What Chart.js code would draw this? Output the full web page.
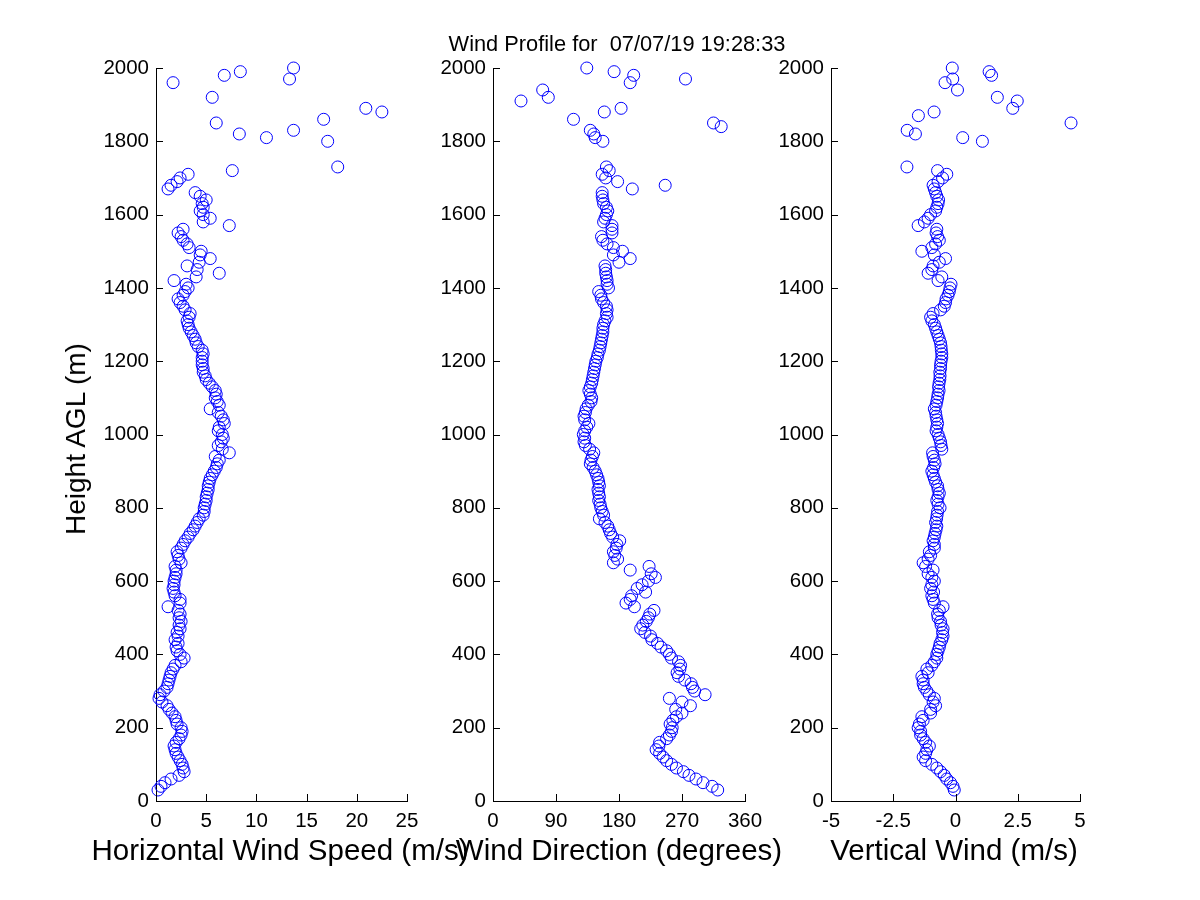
<!DOCTYPE html>
<html>
<head>
<meta charset="utf-8">
<title>Wind Profile</title>
<script src="https://cdn.jsdelivr.net/npm/chart.js@4.4.1/dist/chart.umd.min.js"></script>
<style>
    body { margin: 0; background: #fff; width: 1200px; height: 900px; position: relative; overflow: hidden;
           font-family: "Liberation Sans", Arial, sans-serif; }
    canvas { position: absolute; left: 0; top: 0; }
    .lbl { position: absolute; white-space: pre; color: #000; }
    #title { left: 617px; top: 33px; font-size: 21.8px; line-height: 22px; transform: translateX(-50%); }
    .xlbl { top: 835px; font-size: 29.5px; line-height: 30px; transform: translateX(-50%); }
    #ylbl { left: 76px; top: 439px; font-size: 28px; line-height: 28px; transform: translate(-50%, -50%) rotate(-90deg); }
</style>
</head>
<body>
<canvas id="speedChart" width="1200" height="900"></canvas>
<canvas id="dirChart" width="1200" height="900"></canvas>
<canvas id="vertChart" width="1200" height="900"></canvas>

<div class="lbl" id="title">Wind Profile for  07/07/19 19:28:33</div>
<div class="lbl" id="ylbl">Height AGL (m)</div>
<div class="lbl xlbl" style="left:280px">Horizontal Wind Speed (m/s)</div>
<div class="lbl xlbl" style="left:619px">Wind Direction (degrees)</div>
<div class="lbl xlbl" style="left:954px">Vertical Wind (m/s)</div>

<script>
// range gates (m AGL), dense part of the profile
const heights = [
    30, 40, 50, 60, 70, 80, 90, 100, 110, 120,
    130, 140, 150, 160, 170, 180, 190, 200, 210, 220,
    230, 240, 250, 260, 270, 280, 290, 300, 310, 320,
    330, 340, 350, 360, 370, 380, 390, 400, 410, 420,
    430, 440, 450, 460, 470, 480, 490, 500, 510, 520,
    530, 540, 550, 560, 570, 580, 590, 600, 610, 620,
    630, 640, 650, 660, 670, 680, 690, 700, 710, 720,
    730, 740, 750, 760, 770, 780, 790, 800, 810, 820,
    830, 840, 850, 860, 870, 880, 890, 900, 910, 920,
    930, 940, 950, 960, 970, 980, 990, 1000, 1010, 1020,
    1030, 1040, 1050, 1060, 1070, 1080, 1090, 1100, 1110, 1120,
    1130, 1140, 1150, 1160, 1170, 1180, 1190, 1200, 1210, 1220,
    1230, 1240, 1250, 1260, 1270, 1280, 1290, 1300, 1310, 1320,
    1330, 1340, 1350, 1360, 1370, 1380, 1390, 1400, 1410, 1420,
    1430, 1440, 1450, 1460, 1470, 1480, 1490, 1500, 1510, 1520,
    1530, 1540, 1550, 1560, 1570, 1580, 1590, 1600, 1610, 1620,
    1630, 1640, 1650, 1660, 1670, 1680, 1690, 1700, 1710, 1720,
    1730
];

const speed = [
    0.2, 0.5, 0.9, 1.5, 2.3, 2.8, 2.7, 2.6, 2.4, 2.2,
    2.0, 1.9, 1.8, 2.0, 2.3, 2.5, 2.6, 2.5, 2.1, 2.0,
    1.9, 1.6, 1.3, 1.1, 0.6, 0.3, 0.4, 0.8, 1.1, 1.2,
    1.3, 1.4, 1.5, 1.7, 1.9, 2.5, 2.8, 2.4, 2.1, 2.0,
    2.2, 1.9, 2.2, 2.1, 2.4, 2.3, 2.5, 2.3, 2.4, 2.2,
    1.2, 2.4, 2.4, 1.9, 1.8, 1.7, 1.8, 1.8, 1.9, 2.0,
    2.0, 1.9, 2.5, 2.3, 2.2, 2.1, 2.5, 2.7, 2.9, 3.2,
    3.4, 3.7, 3.9, 4.1, 4.3, 4.7, 4.8, 4.8, 4.9, 5.0,
    5.0, 5.1, 5.2, 5.2, 5.3, 5.4, 5.6, 5.8, 6.0, 6.1,
    6.3, 5.9, 7.3, 6.6, 6.2, 6.5, 6.7, 6.6, 6.2, 6.3,
    6.8, 6.7, 6.5, 6.2, 5.4, 6.3, 6.1, 5.9, 6.0, 5.9,
    5.6, 5.3, 5.0, 4.9, 4.7, 4.7, 4.6, 4.6, 4.6, 4.7,
    4.6, 4.2, 4.0, 3.9, 3.7, 3.5, 3.3, 3.2, 3.1, 3.3,
    3.4, 2.9, 2.7, 2.4, 2.2, 2.7, 2.9, 3.2, 3.0, 1.8,
    4.0, 6.3, 4.1, 3.1, 4.3, 5.4, 4.4, 4.5, 3.3, 3.1,
    2.7, 2.5, 2.2, 2.7, 7.3, 4.7, 5.4, 4.7, 4.4, 4.7,
    4.6, 5.0, 4.4, 3.9, 1.2, 1.5, 2.1, 2.4, 3.2, 7.6,
    18.1
];

const direction = [
    321, 313, 300, 290, 280, 272, 262, 255, 248, 243,
    238, 233, 237, 238, 248, 252, 255, 256, 253, 257,
    262, 270, 261, 282, 270, 252, 303, 288, 285, 283,
    274, 265, 263, 267, 268, 265, 255, 252, 248, 240,
    235, 227, 225, 217, 211, 214, 219, 222, 224, 230,
    202, 190, 196, 198, 218, 206, 213, 222, 232, 226,
    196, 223, 172, 178, 174, 172, 176, 177, 181, 171,
    168, 166, 164, 160, 152, 158, 156, 154, 153, 151,
    152, 151, 150, 152, 151, 150, 148, 146, 143, 139,
    140, 142, 144, 138, 132, 130, 131, 129, 131, 134,
    137, 131, 130, 132, 133, 136, 140, 141, 139, 137,
    139, 141, 142, 143, 144, 145, 146, 147, 149, 150,
    152, 153, 154, 155, 156, 157, 157, 158, 160, 163,
    162, 163, 162, 158, 155, 154, 151, 165, 163, 163,
    162, 161, 161, 160, 180, 196, 172, 185, 172, 163,
    157, 155, 170, 170, 170, 158, 160, 162, 164, 162,
    158, 157, 156, 156, 199, 246, 178, 161, 156, 166,
    162
];

const vertical = [
    -0.05, -0.1, -0.2, -0.35, -0.45, -0.6, -0.75, -0.95, -1.2, -1.3,
    -1.2, -1.15, -1.05, -1.2, -1.3, -1.4, -1.4, -1.5, -1.45, -1.3,
    -1.35, -1.0, -1.0, -0.8, -0.9, -0.85, -1.05, -1.15, -1.25, -1.3,
    -1.3, -1.35, -1.1, -1.15, -0.95, -0.85, -0.75, -0.75, -0.7, -0.65,
    -0.62, -0.55, -0.5, -0.52, -0.5, -0.58, -0.6, -0.7, -0.72, -0.65,
    -0.5, -0.85, -0.9, -0.95, -0.88, -1.0, -0.95, -0.85, -0.95, -1.1,
    -0.9, -1.2, -1.3, -1.1, -1.0, -1.05, -0.85, -0.85, -0.9, -0.85,
    -0.82, -0.78, -0.75, -0.8, -0.76, -0.74, -0.72, -0.62, -0.7, -0.75,
    -0.7, -0.65, -0.7, -0.72, -0.8, -0.85, -0.9, -0.95, -0.88, -0.82,
    -0.85, -0.9, -0.92, -0.55, -0.58, -0.6, -0.65, -0.7, -0.78, -0.75,
    -0.72, -0.75, -0.78, -0.8, -0.85, -0.78, -0.75, -0.72, -0.7, -0.66,
    -0.68, -0.66, -0.63, -0.62, -0.63, -0.6, -0.6, -0.58, -0.55, -0.55,
    -0.57, -0.58, -0.6, -0.65, -0.7, -0.75, -0.8, -0.85, -0.95, -1.0,
    -0.9, -0.6, -0.45, -0.4, -0.38, -0.3, -0.25, -0.22, -0.18, -0.7,
    -0.55, -1.1, -0.95, -0.9, -0.65, -0.4, -0.85, -1.35, -0.95, -0.8,
    -0.65, -0.72, -0.78, -0.75, -1.5, -1.25, -1.1, -1.0, -0.8, -0.75,
    -0.7, -0.68, -0.75, -0.8, -0.85, -0.9, -0.7, -0.52, -0.35, -0.72,
    -1.95
];

// sparse returns near the top of the profile
const speedTopHeights = [1800, 1810, 1820, 1830, 1850, 1860, 1880, 1890, 1920, 1960, 1970, 1980, 1990, 2000];
const speedTop = [17.1, 11.0, 8.3, 13.7, 6.0, 16.7, 22.5, 20.9, 5.6, 1.7, 13.3, 6.8, 8.4, 13.7];

const dirTopHeights = [1800, 1810, 1820, 1830, 1840, 1850, 1860, 1880, 1890, 1910, 1920, 1940, 1960, 1970, 1980, 1990, 2000];
const dirTop = [157, 146, 144, 139, 326, 315, 115, 159, 183, 40, 79, 71, 196, 275, 201, 173, 134];

const vertTopHeights = [1800, 1810, 1820, 1830, 1850, 1870, 1880, 1890, 1910, 1920, 1940, 1960, 1970, 1980, 1990, 2000];
const vertTop = [1.08, 0.29, -1.61, -1.94, 4.64, -1.49, -0.86, 2.3, 2.48, 1.68, 0.08, -0.42, -0.11, 1.45, 1.35, -0.13];

Chart.defaults.font.family = '"Liberation Sans", Arial, sans-serif';
Chart.defaults.font.size = 20.5;
Chart.defaults.color = "#000";

// matlab style tick marks pointing into the plot
const inwardTicks = {
    id: "inwardTicks",
    afterDraw(chart) {
        const { ctx, chartArea, scales } = chart;
        ctx.save();
        ctx.strokeStyle = "#000";
        ctx.lineWidth = 1;
        ctx.beginPath();
        scales.x.ticks.forEach(t => {
            const px = Math.round(scales.x.getPixelForValue(t.value)) + 0.5;
            ctx.moveTo(px, chartArea.bottom);
            ctx.lineTo(px, chartArea.bottom - 7);
        });
        scales.y.ticks.forEach(t => {
            const py = Math.round(scales.y.getPixelForValue(t.value)) + 0.5;
            ctx.moveTo(chartArea.left, py);
            ctx.lineTo(chartArea.left + 7, py);
        });
        ctx.stroke();
        ctx.restore();
    }
};

function toPoints(values, hs) {
    return values.map((v, i) => ({ x: v, y: hs[i] }));
}

function makePanel(id, values, topHeights, topValues, xMin, xMax, xStep, padLeft, padRight) {
    const ctx = document.getElementById(id).getContext("2d");
    return new Chart(ctx, {
        type: "scatter",
        data: {
            datasets: [{
                data: toPoints(values, heights).concat(toPoints(topValues, topHeights)),
                pointStyle: "circle",
                pointRadius: 6,
                pointHoverRadius: 6,
                borderWidth: 1,
                borderColor: "#0000ff",
                backgroundColor: "rgba(0,0,0,0)",
                clip: false
            }]
        },
        options: {
            responsive: false,
            devicePixelRatio: 1,
            animation: false,
            events: [],
            layout: { padding: { left: padLeft, right: padRight, top: 68, bottom: 0 } },
            scales: {
                x: {
                    type: "linear",
                    position: "bottom",
                    min: xMin,
                    max: xMax,
                    ticks: { stepSize: xStep, padding: 8, autoSkip: false, maxRotation: 0,
                             callback: v => String(v) },
                    grid: { drawOnChartArea: false, drawTicks: false },
                    border: { color: "#000", width: 1 },
                    afterFit: s => { s.height = 99; }
                },
                y: {
                    type: "linear",
                    min: 0,
                    max: 2000,
                    ticks: { stepSize: 200, padding: 7, autoSkip: false, callback: v => String(v) },
                    grid: { drawOnChartArea: false, drawTicks: false },
                    border: { color: "#000", width: 1 },
                    afterFit: s => { s.width = 66; }
                }
            },
            plugins: {
                legend: { display: false },
                tooltip: { enabled: false }
            }
        },
        plugins: [inwardTicks]
    });
}

makePanel("speedChart", speed, speedTopHeights, speedTop, 0, 25, 5, 90, 793);
makePanel("dirChart", direction, dirTopHeights, dirTop, 0, 360, 90, 427, 455);
makePanel("vertChart", vertical, vertTopHeights, vertTop, -5, 5, 2.5, 765, 120);
</script>
</body>
</html>
